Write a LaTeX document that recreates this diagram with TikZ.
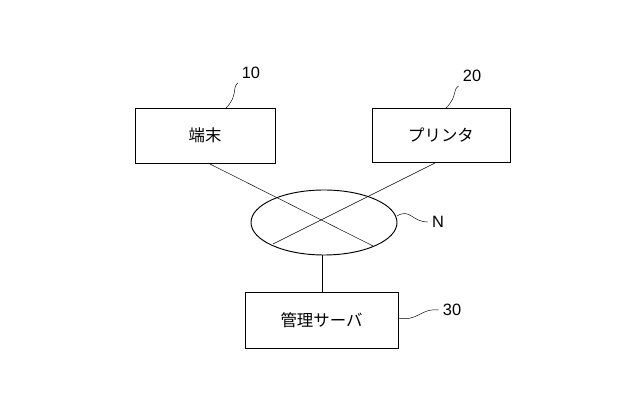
\documentclass[tikz,border=0pt]{standalone}
\usepackage{fontspec}
\usetikzlibrary{shapes.geometric}
\setmainfont{Liberation Sans}
\newfontfamily\jpfont{Noto Sans CJK JP}
\begin{document}
\begin{tikzpicture}[x=0.03cm,y=-0.03cm]
        \tikzset{box/.style={draw=black,thick,inner sep=0pt,font=\jpfont\fontsize{14}{16}\selectfont},
                 lbl/.style={font=\fontsize{14}{16}\selectfont},
                 lead/.style={thin}}
        \useasboundingbox (0,0) rectangle (640,405);

        \node[box,minimum width=4.2cm,minimum height=1.65cm] (term) at (205,135.5) {端末};
        \node[box,minimum width=4.14cm,minimum height=1.62cm] (prn) at (441,135) {プリンタ};
        \node[box,minimum width=4.59cm,minimum height=1.68cm] (srv) at (321.5,320) {管理サーバ};
        \node[draw=black,thick,ellipse,minimum width=4.38cm,minimum height=1.95cm,inner sep=0pt] (net) at (324,222.5) {};

        \coordinate (t1) at (208,163);
        \coordinate (t2) at (373,246);
        \coordinate (p1) at (435,163);
        \coordinate (p2) at (273,244);
        \draw (t1) -- (t2);
        \draw (p1) -- (p2);
        \draw (322,255) -- (srv.north -| 322,0);

        \node[lbl] (l10) at (251,73) {10};
        \node[lbl] (l20) at (472,76) {20};
        \node[lbl] (lN) at (438,222) {N};
        \node[lbl] (l30) at (452,310) {30};

        \draw[lead] (l10.south west) .. controls (232,88) and (238,96) .. (226,108);
        \draw[lead] (l20.south west) .. controls (452,90) and (458,96) .. (446,108);
        \draw[lead] (397,216) .. controls (410,208) and (412,222) .. (lN.west);
        \draw[lead] (398,318) .. controls (418,322) and (420,308) .. (l30.west);
    \end{tikzpicture}
\end{document}
